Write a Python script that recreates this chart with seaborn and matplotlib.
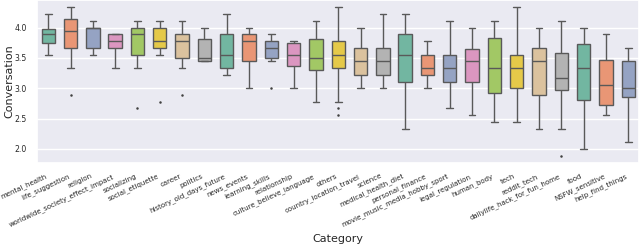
import pandas as pd
import numpy as np
import matplotlib
matplotlib.use("Agg")
import matplotlib.pyplot as plt
import seaborn as sns

# Box statistics (scores are averages, mostly ninths)
categories = [
    "mental_health", "life_suggestion", "religion", "worldwide_society_effect_impact",
    "socializing", "social_etiquette", "career", "politics", "history_old_days_future",
    "news_events", "learning_skills", "relationship", "culture_believe_language",
    "others", "country_location_travel", "science", "medical_health_diet",
    "personal_finance", "movie_music_media_hobby_sport", "legal_regulation",
    "human_body", "tech", "reddit_tech", "dailylife_hack_for_fun_home", "food",
    "NSFW_sensitive", "help_find_things",
]
whis_lo = [3.556, 3.333, 3.556, 3.333, 3.333, 3.556, 3.333, 3.444, 3.222,
           3.0, 3.444, 3.0, 2.778, 2.778, 3.0, 3.0, 2.333,
           3.0, 2.667, 2.556, 2.444, 2.444, 2.333, 2.333, 2.0,
           2.556, 2.111]
q1 = [3.75, 3.667, 3.667, 3.667, 3.556, 3.667, 3.5, 3.444, 3.333,
      3.444, 3.5, 3.361, 3.306, 3.333, 3.222, 3.222, 3.111,
      3.222, 3.111, 3.111, 2.917, 3.0, 2.889, 2.972, 2.806,
      2.722, 2.861]
med = [3.889, 3.944, 4.0, 3.778, 3.889, 3.778, 3.778, 3.5, 3.556,
       3.778, 3.667, 3.556, 3.5, 3.556, 3.444, 3.444, 3.556,
       3.333, 3.333, 3.444, 3.333, 3.333, 3.444, 3.167, 3.333,
       3.056, 3.0]
q3 = [3.972, 4.139, 4.0, 3.889, 4.0, 4.0, 3.889, 3.806, 3.889,
      3.889, 3.778, 3.75, 3.806, 3.778, 3.667, 3.667, 3.889,
      3.556, 3.556, 3.639, 3.833, 3.556, 3.667, 3.583, 3.722,
      3.472, 3.444]
whis_hi = [4.222, 4.333, 4.111, 3.889, 4.111, 4.111, 4.111, 4.0, 4.222,
           4.0, 3.889, 3.778, 4.111, 4.333, 4.0, 4.222, 4.222,
           3.778, 4.111, 4.0, 4.111, 4.333, 4.0, 4.111, 4.0,
           3.889, 3.667]

outlier_cat = ["life_suggestion", "socializing", "social_etiquette", "career",
               "learning_skills", "others", "others", "dailylife_hack_for_fun_home"]
outlier_val = [2.889, 2.667, 2.778, 2.889, 3.0, 2.667, 2.556, 1.889]

rows = []
for i, c in enumerate(categories):
    for v in (whis_lo[i], q1[i], med[i], q3[i], whis_hi[i]):
        rows.append({"Category": c, "Conversation": v})
df = pd.DataFrame(rows)
df_out = pd.DataFrame({"Category": outlier_cat, "Conversation": outlier_val})

sns.set_theme(style="darkgrid")
plt.rcParams["font.family"] = ["DejaVu Sans"]

fig, ax = plt.subplots(figsize=(6.4, 2.47), dpi=100)
sns.boxplot(data=df, x="Category", y="Conversation", hue="Category",
            order=categories, palette="Set2", whis=(0, 100), width=0.6,
            linewidth=1.0, linecolor="0.35", legend=False, ax=ax)
sns.stripplot(data=df_out, x="Category", y="Conversation", order=categories,
              jitter=False, color="0.25", size=1.8, ax=ax)

ax.set_xlabel("Category", fontsize=8)
ax.set_ylabel("Conversation", fontsize=8)
ax.yaxis.set_label_coords(-0.038, 0.5)
ax.tick_params(axis="y", labelsize=5.6, pad=1.5)
ax.tick_params(axis="x", labelsize=5.0, pad=1)
plt.setp(ax.get_xticklabels(), rotation=25, ha="right")
ax.set_yticks([2.0, 2.5, 3.0, 3.5, 4.0])

fig.subplots_adjust(left=0.058, right=0.999, top=1.0, bottom=0.34)
fig.savefig("out.png", dpi=100)
